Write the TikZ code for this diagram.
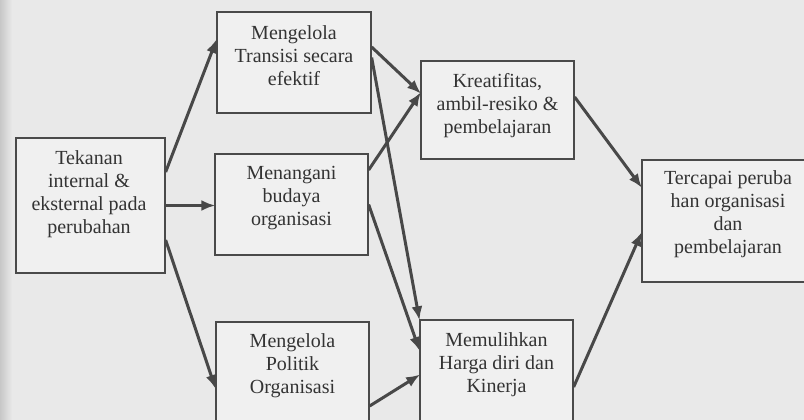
\documentclass[tikz,border=0pt]{standalone}
\usepackage{fontspec}
\setmainfont{Liberation Serif}
\usetikzlibrary{arrows.meta}
\definecolor{paper}{HTML}{E9E9E9}
\definecolor{boxfill}{HTML}{F0F0F0}
\definecolor{ink}{HTML}{333333}
\definecolor{edge}{HTML}{4A4A4A}
\definecolor{wire}{HTML}{484848}
\tikzset{
  box/.style={draw=edge, line width=1.3pt, fill=boxfill, rectangle, inner sep=0pt},
  label/.style={text=ink, align=center, inner sep=0pt,
    font=\fontsize{20}{23}\selectfont},
  flow/.style={draw=wire, line width=3pt,
    -{Latex[length=14pt,width=11pt]}, shorten >=-1pt},
}
\begin{document}
\begin{tikzpicture}[x=1pt, y=-1pt]
  % page and clipping frame
  \useasboundingbox (0,0) rectangle (804,420);
  \clip (0,0) rectangle (804,420);
  \fill[paper] (0,0) rectangle (804,420);
  \shade[left color=black!22, right color=paper] (0,0) rectangle (12,420);

  % boxes
  \node[box, minimum width=149pt, minimum height=135pt] (tek) at (90.5,205.5) {};
  \node[box, minimum width=154pt, minimum height=101pt] (tra) at (294,62.5) {};
  \node[box, minimum width=153pt, minimum height=101pt] (bud) at (291.5,204.5) {};
  \node[box, minimum width=153pt, minimum height=120pt] (pol) at (292.5,382) {};
  \node[box, minimum width=153pt, minimum height=98pt]  (kre) at (497.5,110) {};
  \node[box, minimum width=153pt, minimum height=120pt] (mem) at (496.5,380) {};
  \node[box, minimum width=178pt, minimum height=122pt] (ter) at (731,221) {};

  % box texts
  \node[label] (tekT) at (89,194) {Tekanan\\internal \&\\eksternal pada\\perubahan};
  \node[label] (traT) at (294,56) {Mengelola\\Transisi secara\\efektif};
  \node[label] (budT) at (291.5,198) {Menangani\\budaya\\organisasi};
  \node[label] (polT) at (292.5,366) {Mengelola\\Politik\\Organisasi};
  \node[label] (kreT) at (497.5,106) {Kreatifitas,\\ambil-resiko \&\\pembelajaran};
  \node[label] (memT) at (496.5,365) {Memulihkan\\Harga diri dan\\Kinerja};
  \node[label] (terT) at (728,214) {Tercapai peruba\\han organisasi\\dan\\pembelajaran};

  % connectors
  \draw[flow] ([yshift=33.5pt]tek.east) -- ([yshift=22.5pt]tra.west);
  \draw[flow] (tek.east) -- (tek.east -| bud.west);
  \draw[flow] ([yshift=-34.5pt]tek.east) -- ([yshift=-6pt]pol.west);

  \draw[flow] ([yshift=15.5pt]tra.east) -- ([yshift=17pt]kre.west);
  \draw[flow] ([yshift=5pt]tra.east) -- (mem.north west);
  \draw[flow] ([yshift=34.5pt]bud.east) -- ([yshift=17pt]kre.west);
  \draw[flow] (bud.east) -- ([yshift=30pt]mem.west);
  \draw[flow] ([yshift=-24pt]pol.east) -- ([yshift=5pt]mem.west);

  \draw[flow] ([yshift=13pt]kre.east) -- ([yshift=34pt]ter.west);
  \draw[flow] ([yshift=-7pt]mem.east) -- ([yshift=-12pt]ter.west);
\end{tikzpicture}
\end{document}
